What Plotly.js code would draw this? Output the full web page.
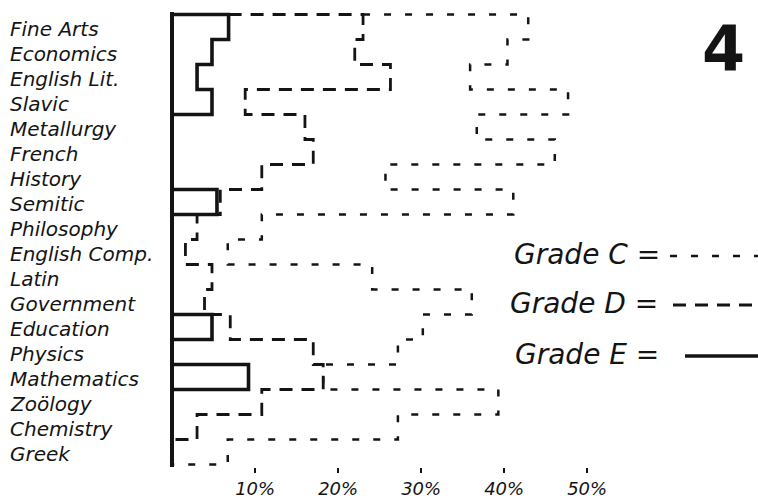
<!DOCTYPE html>
<html>
<head>
<meta charset="utf-8">
<script src="https://cdn.plot.ly/plotly-3.0.1.min.js"></script>
<style>html,body{margin:0;padding:0;background:#fff;}#chart{width:758px;height:500px;}</style>
</head>
<body>
<div id="chart"></div>
<script>
// Subjects, top to bottom
const categories = ["Fine Arts","Economics","English Lit.","Slavic","Metallurgy","French","History","Semitic","Philosophy","English Comp.","Latin","Government","Education","Physics","Mathematics","Zoölogy","Chemistry","Greek"];
// Percent positions of each grade line
const gradeE = [6.8,4.8,3.0,4.8,0,0,0,5.4,0,0,0,0,4.8,0,9.2,0,0,0];
const gradeD = [23.0,22.0,26.3,8.8,16.0,17.0,10.8,5.8,3.0,1.6,4.8,3.9,7.0,17.0,18.2,10.8,3.0,0];
const gradeC = [42.9,40.4,35.9,47.7,36.7,46.1,25.7,41.1,10.8,6.7,24.1,36.1,30.2,27.2,18.2,39.3,27.2,6.7];
const tickValues = [10,20,30,40,50];
const tickLabels = ["10%","20%","30%","40%","50%"];
const legendLabels = ["Grade C =","Grade D =","Grade E ="];

function stepPath(vals, startX){
  const xs=[startX], ys=[-0.5];
  vals.forEach((v,i)=>{ xs.push(v,v); ys.push(i-0.5,i+0.5); });
  xs.push(0); ys.push(vals.length-0.5);
  return {xs, ys};
}
const ink = "#141414";
const pE = stepPath(gradeE, 0);
const pD = stepPath(gradeD, gradeE[0]);
const pC = stepPath(gradeC, gradeD[0]);
const styles = {
  C:{width:2.5, dash:"7px,14px"},
  D:{width:2.8, dash:"13px,9px"},
  E:{width:3.6, dash:"solid"}
};
const traces = [
  {x:pC.xs, y:pC.ys, mode:"lines", line:{color:ink, width:styles.C.width, dash:styles.C.dash}, hoverinfo:"skip"},
  {x:pD.xs, y:pD.ys, mode:"lines", line:{color:ink, width:styles.D.width, dash:styles.D.dash}, hoverinfo:"skip"},
  {x:pE.xs, y:pE.ys, mode:"lines", line:{color:ink, width:styles.E.width, dash:styles.E.dash}, hoverinfo:"skip"}
];

const L=168, R=0, T=12, B=33, W=758, H=500;
const pw = W-L-R, ph = H-T-B;
const px2paperX = px => (px-L)/pw;
const px2paperY = py => (H-B-py)/ph;

const annotations = categories.map((c,i)=>({
  xref:"paper", yref:"y", x:px2paperX(8), y:i, xanchor:"left", yanchor:"middle",
  text:c, showarrow:false, yshift:-2,
  font:{family:"DejaVu Sans", size:20, style:"italic", color:ink}
}));
const legendY = [254, 303, 354];
const legendX = [512, 508, 513];
const lineStart = [670, 673, 685];
const legStyles = [styles.C, styles.D, styles.E];
const shapes = [];
legendLabels.forEach((t,k)=>{
  annotations.push({xref:"paper", yref:"paper", x:px2paperX(legendX[k]), y:px2paperY(legendY[k]),
    xanchor:"left", yanchor:"middle", text:t, showarrow:false,
    font:{family:"DejaVu Sans", size:28, style:"italic", color:ink}});
  shapes.push({type:"line", xref:"paper", yref:"paper",
    x0:px2paperX(lineStart[k]), x1:px2paperX(758), y0:px2paperY(legendY[k]+2), y1:px2paperY(legendY[k]+2),
    line:{color:ink, width:legStyles[k].width, dash:legStyles[k].dash}});
});
annotations.push({xref:"paper", yref:"paper", x:px2paperX(723), y:px2paperY(48), xanchor:"center", yanchor:"middle",
  text:"<b>4</b>", showarrow:false, font:{family:"DejaVu Sans", size:62, color:ink}});

const layout = {
  width:W, height:H, margin:{l:L, r:R, t:T, b:B},
  paper_bgcolor:"#fff", plot_bgcolor:"#fff", showlegend:false,
  xaxis:{range:[-0.5, -0.5+pw/8.3], tickvals:tickValues, ticktext:tickLabels, ticks:"outside", ticklen:5, tickwidth:2, tickcolor:ink,
    showgrid:false, zeroline:true, zerolinecolor:ink, zerolinewidth:3.4, showline:false, ticklabelstandoff:0,
    tickfont:{family:"DejaVu Sans", size:18, style:"italic", color:ink}, fixedrange:true},
  yaxis:{range:[categories.length-0.5+0.1, -0.6], showticklabels:false, ticks:"", showgrid:false, zeroline:false, showline:false, fixedrange:true},
  annotations, shapes
};
Plotly.newPlot("chart", traces, layout, {staticPlot:true, displayModeBar:false});
</script>
</body>
</html>
